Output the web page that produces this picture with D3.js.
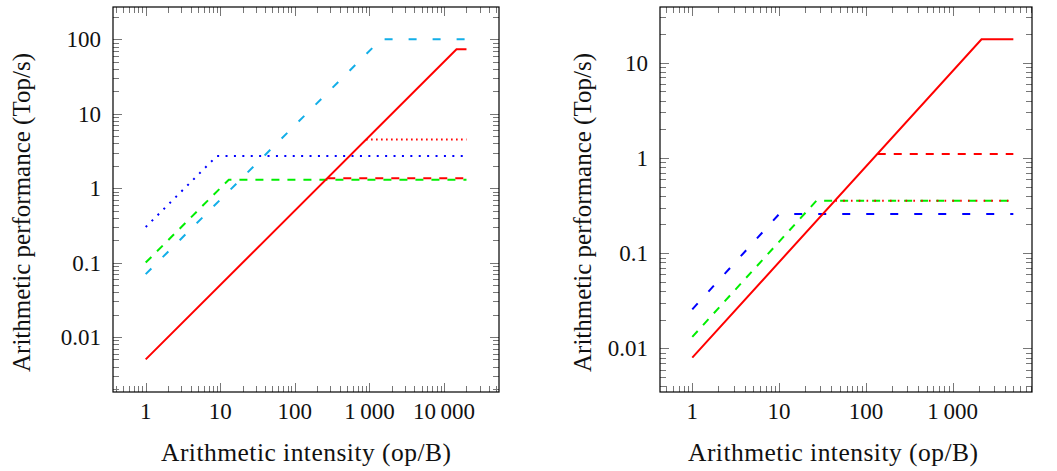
<!DOCTYPE html>
<html>
<head>
<meta charset="utf-8">
<script src="https://cdn.jsdelivr.net/npm/d3@7"></script>
<style>
  body { margin: 0; background: #fff; }
  svg text { font-family: "Liberation Serif", "DejaVu Serif", serif; fill: #111; }
</style>
</head>
<body>
<svg id="chart" width="1057" height="471"></svg>
<script>
// ---- left panel data (op/B -> Top/s) ----
var leftXTicks = [1, 10, 100, 1000, 10000];
var leftXTickLabels = ["1", "10", "100", "1\u2009000", "10\u2009000"];
var leftYTicks = [100, 10, 1, 0.1, 0.01];
var leftYTickLabels = ["100", "10", "1", "0.1", "0.01"];

var leftCyanX = [1, 1430, 20000];
var leftCyanY = [0.07, 100, 100];
var leftBlueX = [1, 9, 20000];
var leftBlueY = [0.3, 2.7, 2.7];
var leftGreenX = [1, 13, 20000];
var leftGreenY = [0.1, 1.3, 1.3];
var leftRedDashX = [272, 20000];
var leftRedDashY = [1.36, 1.36];
var leftRedDotX = [900, 20000];
var leftRedDotY = [4.5, 4.5];
var leftRedX = [1, 14700, 20000];
var leftRedY = [0.005, 73.5, 73.5];

// ---- right panel data ----
var rightXTicks = [1, 10, 100, 1000];
var rightXTickLabels = ["1", "10", "100", "1\u2009000"];
var rightYTicks = [10, 1, 0.1, 0.01];
var rightYTickLabels = ["10", "1", "0.1", "0.01"];

var rightBlueX = [1, 10, 5000];
var rightBlueY = [0.0257, 0.257, 0.257];
var rightGreenX = [1, 27, 5000];
var rightGreenY = [0.0132, 0.356, 0.356];
var rightRedDotX = [44.5, 5000];
var rightRedDotY = [0.356, 0.356];
var rightRedDashX = [137, 5000];
var rightRedDashY = [1.1, 1.1];
var rightRedX = [1, 2150, 5000];
var rightRedY = [0.008, 17.6, 17.6];

var xTitle = "Arithmetic intensity (op/B)";
var yTitle = "Arithmetic performance (Top/s)";

// line styles
var RED = "#ff0000", BLUE = "#0000ff", GREEN = "#00ee00", CYAN = "#12aee8";
var DASHED = "8 8", LOOSE = "8 16", DOTTED = "1.6 3.4", LOOSEDOT = "2 6.4";

var svg = d3.select("#chart");

function drawPanel(cfg) {
  var x = d3.scaleLog().domain(cfg.xDomain).range([cfg.left, cfg.right]);
  var y = d3.scaleLog().domain(cfg.yDomain).range([cfg.bottom, cfg.top]);
  var g = svg.append("g");

  // minor + major ticks on all four sides (inward)
  var ticks = g.append("g").attr("stroke", "#777").attr("stroke-width", 1);
  function minors(dom) {
    var out = [];
    var lo = Math.floor(Math.log10(dom[0])), hi = Math.ceil(Math.log10(dom[1]));
    for (var d = lo; d <= hi; d++) {
      for (var k = 1; k <= 9; k++) {
        var v = k * Math.pow(10, d);
        if (v >= dom[0] && v <= dom[1]) out.push({ v: v, major: k === 1 });
      }
    }
    return out;
  }
  minors(cfg.xDomain).forEach(function(t) {
    var px = Math.round(x(t.v)) + 0.5, len = t.major ? 9 : 6;
    ticks.append("line").attr("x1", px).attr("x2", px).attr("y1", cfg.bottom).attr("y2", cfg.bottom - len);
    ticks.append("line").attr("x1", px).attr("x2", px).attr("y1", cfg.top).attr("y2", cfg.top + len);
  });
  minors(cfg.yDomain).forEach(function(t) {
    var py = Math.round(y(t.v)) + 0.5, len = t.major ? 9 : 6;
    ticks.append("line").attr("y1", py).attr("y2", py).attr("x1", cfg.left).attr("x2", cfg.left + len);
    ticks.append("line").attr("y1", py).attr("y2", py).attr("x1", cfg.right).attr("x2", cfg.right - len);
  });

  // series
  var line = d3.line().x(function(d) { return x(d[0]); }).y(function(d) { return y(d[1]); });
  cfg.series.forEach(function(s) {
    g.append("path")
      .datum(d3.zip(s.xs, s.ys))
      .attr("d", line)
      .attr("fill", "none")
      .attr("stroke", s.color)
      .attr("stroke-width", 2)
      .attr("stroke-dasharray", s.dash || null);
  });

  // frame
  g.append("rect")
    .attr("x", cfg.left).attr("y", cfg.top)
    .attr("width", cfg.right - cfg.left).attr("height", cfg.bottom - cfg.top)
    .attr("fill", "none").attr("stroke", "#000").attr("stroke-width", 1.2);

  // tick labels
  cfg.xTicks.forEach(function(v, i) {
    g.append("text").attr("x", x(v)).attr("y", cfg.bottom + 27)
      .attr("text-anchor", "middle").style("font-size", "23px").text(cfg.xTickLabels[i]);
  });
  cfg.yTicks.forEach(function(v, i) {
    g.append("text").attr("x", cfg.left - 12).attr("y", y(v)).attr("dy", "0.35em")
      .attr("text-anchor", "end").style("font-size", "23px").text(cfg.yTickLabels[i]);
  });

  // axis titles
  g.append("text").attr("x", cfg.xTitleX).attr("y", cfg.bottom + 69)
    .attr("text-anchor", "middle").style("font-size", "25.5px")
    .attr("textLength", 290).attr("lengthAdjust", "spacing").text(xTitle);
  g.append("text")
    .attr("transform", "translate(" + cfg.yTitleX + "," + ((cfg.top + cfg.bottom) / 2 + 13) + ") rotate(-90)")
    .attr("text-anchor", "middle").style("font-size", "25px").text(yTitle);
}

drawPanel({
  left: 113, right: 499, top: 7, bottom: 392,
  xDomain: [Math.pow(10, -0.4385), Math.pow(10, 4.737)],
  yDomain: [Math.pow(10, -2.739), Math.pow(10, 2.434)],
  xTicks: leftXTicks, xTickLabels: leftXTickLabels,
  yTicks: leftYTicks, yTickLabels: leftYTickLabels,
  xTitleX: 306, yTitleX: 30,
  series: [
    { xs: leftCyanX, ys: leftCyanY, color: CYAN, dash: LOOSE },
    { xs: leftBlueX, ys: leftBlueY, color: BLUE, dash: LOOSEDOT },
    { xs: leftGreenX, ys: leftGreenY, color: GREEN, dash: DASHED },
    { xs: leftRedDashX, ys: leftRedDashY, color: RED, dash: DASHED },
    { xs: leftRedDotX, ys: leftRedDotY, color: RED, dash: DOTTED },
    { xs: leftRedX, ys: leftRedY, color: RED }
  ]
});

drawPanel({
  left: 660, right: 1032, top: 7, bottom: 392,
  xDomain: [Math.pow(10, -0.372), Math.pow(10, 3.914)],
  yDomain: [Math.pow(10, -2.458), Math.pow(10, 1.585)],
  xTicks: rightXTicks, xTickLabels: rightXTickLabels,
  yTicks: rightYTicks, yTickLabels: rightYTickLabels,
  xTitleX: 833, yTitleX: 591,
  series: [
    { xs: rightBlueX, ys: rightBlueY, color: BLUE, dash: LOOSE },
    { xs: rightGreenX, ys: rightGreenY, color: GREEN, dash: DASHED },
    { xs: rightRedDotX, ys: rightRedDotY, color: RED, dash: "1.6 6.2" },
    { xs: rightRedDashX, ys: rightRedDashY, color: RED, dash: DASHED },
    { xs: rightRedX, ys: rightRedY, color: RED }
  ]
});
</script>
</body>
</html>
